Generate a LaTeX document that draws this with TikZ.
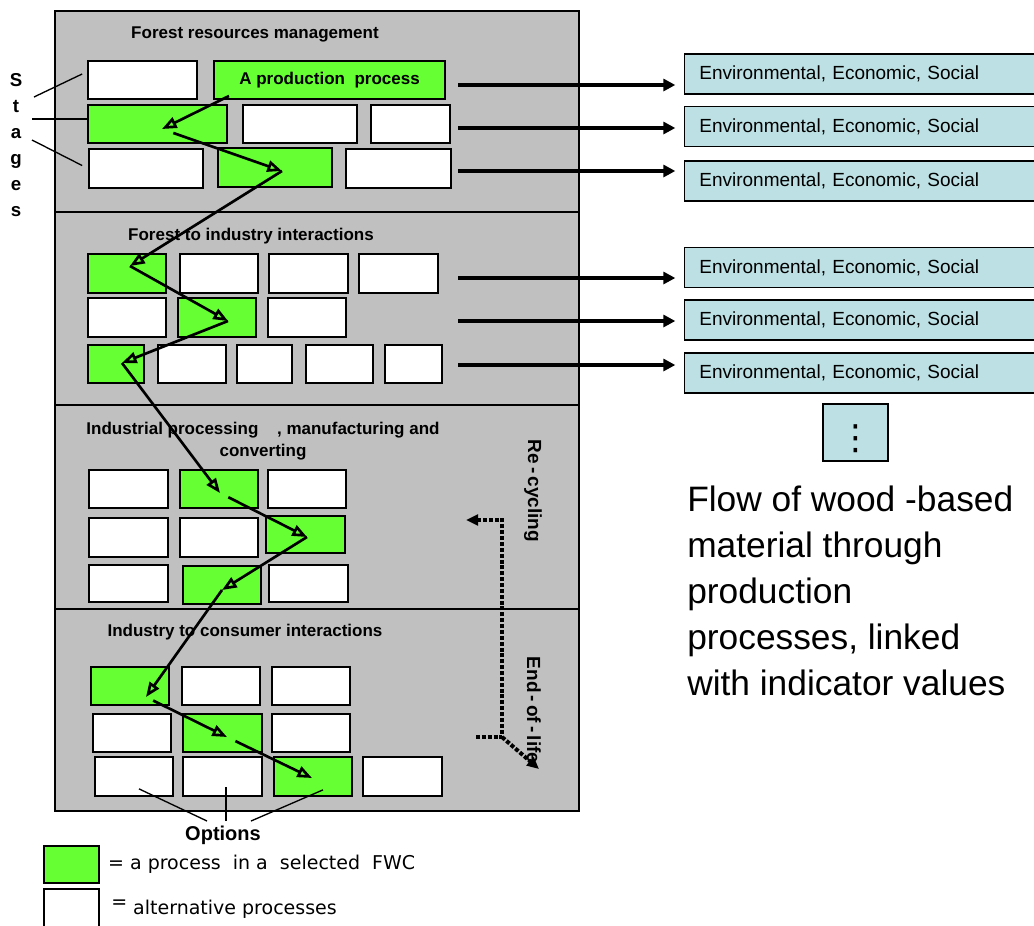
\documentclass[tikz,border=0pt]{standalone}
\usepackage{fontspec}
\setmainfont{Liberation Sans}
\newfontfamily\legendfont{DejaVu Sans}
\usetikzlibrary{arrows.meta,fit,calc}

\definecolor{panelgray}{HTML}{C0C0C0}
\definecolor{fwcgreen}{HTML}{66FF33}
\definecolor{indblue}{HTML}{BCE0E3}

\tikzset{
  altbox/.style={draw=black, fill=white, line width=1.3pt, inner sep=0pt},
  selbox/.style={altbox, fill=fwcgreen},
  stagetitle/.style={font=\bfseries\fontsize{12.75}{16.5}\selectfont},
  indic/.style={draw=black, line width=1pt, fill=indblue, anchor=west, minimum height=30pt,
    text width=250pt, inner xsep=11pt, font=\fontsize{14.25}{17}\selectfont},
  flowarrow/.style={line width=2pt, -{Triangle[open,length=11pt,width=8.5pt]}},
  indarrow/.style={line width=2.8pt, -{Triangle[length=9pt,width=9pt]}, shorten >=6.5pt},
  recyc/.style={line width=3pt, dash pattern=on 3pt off 1.4pt},
  thinline/.style={line width=1pt}
}

\begin{document}
\begin{tikzpicture}[x=0.75pt,y=-0.75pt]
  \useasboundingbox (0,0) rectangle (1034,925);
  \clip (0,0) rectangle (1034,925);

  % gray panel with the four stages
  \draw[fill=panelgray, line width=1pt] (55,11) rectangle (579,811);
  \foreach \y in {212,405,609}
    \draw[line width=1pt] (55,\y) -- (579,\y);

  \node[stagetitle] (t1) at (255,34) {Forest resources management};
  \node[stagetitle] (t2) at (251,236) {Forest to industry interactions};
  \node[stagetitle, align=center] (t3) at (263,441)
    {Industrial processing\hspace{14pt}, manufacturing and\\converting};
  \node[stagetitle] (t4) at (245,632) {Industry to consumer interactions};

  % process boxes: name/style/x1/y1/x2/y2
  \node[selbox, minimum width=173.25pt, minimum height=28.5pt, stagetitle] (prod) at (329.5,80)
    {A production\ \ process};
  \foreach \n/\s/\xa/\ya/\xb/\yb in {
      w11/altbox/88/61/197/99,
      g12/selbox/88/105/227/143, w12/altbox/243/105/357/143, w13/altbox/371/105/450/143,
      w14/altbox/89/149/203/188, g13/selbox/218/148/332/187, w15/altbox/346/149/451/188,
      g21/selbox/88/254/166/293, w21/altbox/180/254/258/293, w22/altbox/269/254/348/293,
      w23/altbox/359/254/438/293,
      w24/altbox/88/298/166/337, g22/selbox/178/298/256/337, w25/altbox/268/298/346/337,
      g23/selbox/88/345/144/383, w26/altbox/158/345/226/383, w27/altbox/237/345/292/383,
      w28/altbox/306/345/373/383, w29/altbox/385/345/442/383,
      w31/altbox/89/470/168/508, g31/selbox/180/470/258/508, w32/altbox/268/470/346/508,
      w33/altbox/89/518/168/557, w34/altbox/180/518/258/557, g32/selbox/266/516/345/553,
      w35/altbox/89/565/168/602, g33/selbox/183/566/261/604, w36/altbox/269/565/348/602,
      g41/selbox/91/667/169/705, w41/altbox/182/667/260/705, w42/altbox/272/667/350/705,
      w43/altbox/93/714/171/752, g42/selbox/183/714/262/752, w44/altbox/272/714/350/752,
      w45/altbox/95/757/173/796, w46/altbox/183/757/262/796, g43/selbox/274/757/352/796,
      w47/altbox/363/757/442/796}
    \node[\s, fit={(\xa,\ya) (\xb,\yb)}] (\n) {};

  % path of the selected chain
  \coordinate (f0) at (229,96);
  \coordinate (f1) at (162,129);
  \coordinate (f2) at (282,171);
  \coordinate (f3) at (130,266);
  \coordinate (f4) at (228,321);
  \coordinate (f5) at (122,363);
  \coordinate (f6) at (220,493);
  \coordinate (f7) at (307,537);
  \coordinate (f8) at (222,590);
  \coordinate (f9) at (146,697);
  \coordinate (f10) at (227,737);
  \coordinate (f11) at (312,778);
  \foreach \a/\b/\g in {f0/f1/0, f1/f2/9, f2/f3/0, f3/f4/0, f4/f5/0, f5/f6/0,
      f6/f7/7, f7/f8/0, f8/f9/0, f9/f10/6, f10/f11/7}
    \draw[flowarrow, shorten <=\g pt] (\a) -- (\b);

  % indicator boxes
  \foreach \i/\y in {1/74, 2/126.5, 3/181, 4/267.5, 5/320, 6/373}
    \node[indic] (e\i) at (684,\y) {Environmental, Economic, Social};
  \node[draw=black, line width=1pt, fill=indblue, fit={(823,404) (888,461)}, inner sep=0pt,
    font=\legendfont\fontsize{26}{26}\selectfont] (more) {\smash{\raisebox{-13pt}{⋮}}};

  \foreach \i/\y in {1/85, 2/128, 3/171, 4/278, 5/321, 6/365} {
    \coordinate (s\i) at (458,\y);
    \draw[indarrow] (s\i) -- (s\i -| e\i.west);
  }

  \node[anchor=north west, align=left, inner sep=0pt,
    font=\fontsize{26.5}{34.5}\selectfont] (flowtxt) at (687,486)
    {Flow of wood -based\\material through\\production\\processes, linked\\with indicator values};

  % re-cycling / end-of-life
  \coordinate (r0) at (476,737);
  \coordinate (r1) at (502,737);
  \coordinate (r2) at (502,520);
  \coordinate (r3) at (466,520);
  \coordinate (r4) at (539,769);
  \draw[recyc, -{Triangle[length=9pt,width=8pt]}] (r0) -- (r1) -- (r2) -- (r3);
  \draw[recyc, -{Triangle[length=9pt,width=8pt]}] (r1) -- (r4);
  \node[rotate=-90, font=\bfseries\fontsize{14.25}{17}\selectfont] (recy) at (533,491) {Re\,-\,cycling};
  \node[rotate=-90, font=\bfseries\fontsize{14.25}{17}\selectfont] (eol) at (534,710) {End\,-\,of\,-\,life};

  % stages
  \foreach \ch [count=\i] in {S,t,a,g,e,s}
    \node[anchor=base, font=\bfseries\fontsize{14}{14}\selectfont] (st\i) at (16,{86+26*(\i-1)}) {\ch};
  \coordinate (sl1) at (34,97);
  \coordinate (sl2) at (32,119);
  \coordinate (sl3) at (32,140);
  \draw[thinline] (sl1) -- ($(w11.west)+(-5,-6)$);
  \draw[thinline] (sl2) -- (sl2 -| g12.west);
  \draw[thinline] (sl3) -- ($(w14.west)+(-6,-3)$);

  % options
  \node[font=\bfseries\fontsize{15}{15}\selectfont] (opt) at (223,835) {Options};
  \coordinate (o1) at (207,821);
  \coordinate (o2) at (226,821);
  \coordinate (o3) at (251,821);
  \draw[thinline] (o1) -- ($(w45.south)+(5,-8)$);
  \draw[thinline] (o2) -- ($(w46.south)+(3.5,-10)$);
  \draw[thinline] (o3) -- ($(g43.south)+(10,-7)$);

  % legend
  \node[selbox, fit={(44,846) (99,883)}] (lgsel) {};
  \node[altbox, fit={(44,889) (99,932)}] (lgalt) {};
  \node[anchor=west, inner sep=0pt, font=\legendfont\fontsize{14.25}{14}\selectfont] (lgseltxt)
    at ($(lgsel.east)+(8,0)$) {= a process\ \ in a\ \ selected\ \ FWC};
  \node[anchor=west, inner sep=0pt, font=\legendfont\fontsize{14.25}{14}\selectfont] (lgalttxt)
    at (111,909) {\raisebox{5pt}{=}\ alternative processes};
\end{tikzpicture}
\end{document}
